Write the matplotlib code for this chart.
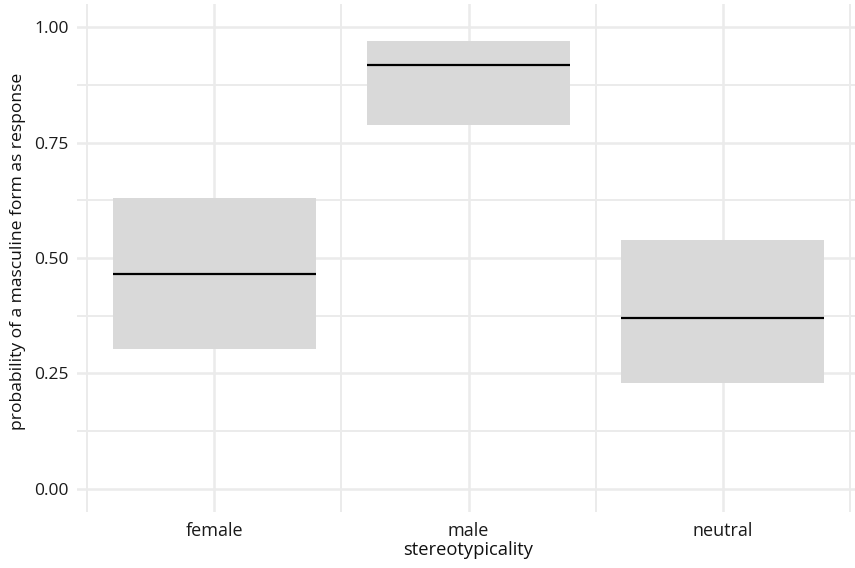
import matplotlib
matplotlib.use("Agg")
import matplotlib.pyplot as plt

categories = ["female", "male", "neutral"]
lower = [0.304, 0.789, 0.229]
median = [0.465, 0.917, 0.371]
upper = [0.631, 0.970, 0.540]
y_ticks = [0.0, 0.25, 0.5, 0.75, 1.0]
y_tick_labels = ["0.00", "0.25", "0.50", "0.75", "1.00"]

plt.rcParams['font.family'] = ['Open Sans', 'DejaVu Sans']

fig = plt.figure(figsize=(8.55, 5.68), dpi=100)
ax = fig.add_axes([77/855, (568-512)/568, (860-77)/855, (512-4)/568])

x = list(range(1, len(categories) + 1))
width = 0.8
grid_c = '#EBEBEB'

# grid
for yv in [0.0, 0.25, 0.5, 0.75, 1.0]:
    ax.axhline(yv, color=grid_c, lw=1.8, zorder=0)
for yv in [0.125, 0.375, 0.625, 0.875]:
    ax.axhline(yv, color=grid_c, lw=1.4, zorder=0)
for xv in x:
    ax.axvline(xv, color=grid_c, lw=1.8, zorder=0)
for xv in [0.5, 1.5, 2.5, 3.5]:
    ax.axvline(xv, color=grid_c, lw=1.4, zorder=0)

ax.bar(x, [u - l for u, l in zip(upper, lower)], bottom=lower, width=width,
       color='#D9D9D9', edgecolor='none', zorder=2)
ax.hlines(median, [xi - width/2 for xi in x], [xi + width/2 for xi in x],
          color='black', lw=1.6, zorder=3)

ax.set_xlim(0.46, 3.54)
ax.set_ylim(-0.05, 1.05)
ax.set_xticks(x)
ax.set_xticklabels(categories)
ax.set_yticks(y_ticks)
ax.set_yticklabels(y_tick_labels)
ax.tick_params(axis='both', length=0, labelsize=12.5, labelcolor='#1A1A1A')
ax.tick_params(axis='x', labelsize=13, pad=7)
ax.tick_params(axis='y', pad=6)
for s in ax.spines.values():
    s.set_visible(False)
ax.set_xlabel("stereotypicality", fontsize=13.2, color='#111111', labelpad=1)
ax.set_ylabel("probability of a masculine form as response", fontsize=12.6,
              color='#111111')
ax.yaxis.set_label_coords(-(77 - 26) / 783, 0.513)

fig.savefig("out.png", dpi=100)
